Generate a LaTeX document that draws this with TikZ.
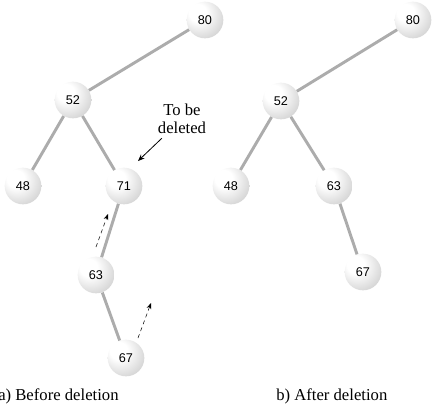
\documentclass[tikz,border=0pt]{standalone}
\usepackage{fontspec}
\setmainfont{Liberation Serif}
\newfontfamily\keyfont{Liberation Sans}
\usetikzlibrary{calc,arrows.meta}
\pgfdeclareradialshading{keyball}{\pgfpoint{-12bp}{12bp}}{%
  color(0bp)=(white); color(12bp)=(white);
  color(45bp)=(gray!50); color(58bp)=(gray!70); color(70bp)=(gray!75)}
\tikzset{
    key/.style={circle,minimum size=27.5pt,inner sep=0pt,shading=keyball,
      font=\keyfont\fontsize{9.5}{10}\selectfont},
    link/.style={line width=2.2pt,draw=gray!65},
    moveup/.style={densely dashed,dash pattern=on 3pt off 2.5pt,thin,
      -{Stealth[length=4.5pt,width=3.5pt]}},
    caption/.style={font=\fontsize{12.5}{14}\selectfont,anchor=west,inner sep=0pt},
  }
\begin{document}
\begin{tikzpicture}[x=0.75pt,y=-0.75pt]
				  %(x,y) in pixels of a 433x412 picture, y downwards
				  \useasboundingbox (0,0) rectangle (433,412);
				   %TREE A (before)
				  \node[key] (a80) at (205,20) {80};
				  \node[key] (a52) at (73,100) {52};
				  \node[key] (a48) at (23,186) {48};
				  \node[key] (a71) at (124,186) {71};
				  \node[key] (a63) at (96,275) {63};
				  \node[key] (a67) at (126,358) {67};
				  \draw[link] (a80) -- (a52);
				  \draw[link] (a52) -- (a48);
				  \draw[link] (a52) -- (a71);
				  \draw[link] (a71) -- (a63);
				  \draw[link] (a63) -- (a67);
				  %TO BE DELETED
				  \node[align=center,inner sep=1pt,font=\fontsize{12.5}{13.5}\selectfont] (del) at (182,119) {To be\\deleted};
				  \coordinate (delTip) at (138,161);
				  \draw[-{Stealth[length=5pt,width=4pt]},semithick,shorten <=3pt] (del) -- (delTip);
				  %MOVING UP
				  \coordinate (upA1) at (96,247);
				  \coordinate (upA2) at (108,214);
				  \coordinate (upB1) at (138,338);
				  \coordinate (upB2) at (151,303);
				  \draw[moveup] (upA1) -- (upA2);
				  \draw[moveup] (upB1) -- (upB2);
				   %TREE B (after)
				  \node[key] (b80) at (413,20) {80};
				  \node[key] (b52) at (281,101) {52};
				  \node[key] (b48) at (231,186) {48};
				  \node[key] (b63) at (334,186) {63};
				  \node[key] (b67) at (363,272) {67};
				  \draw[link] (b80) -- (b52);
				  \draw[link] (b52) -- (b48);
				  \draw[link] (b52) -- (b63);
				  \draw[link] (b63) -- (b67);
				  %CAPTIONS
				  \node[caption] (capA) at (-2,396) {a) Before deletion};
				  \node[caption] (capB) at (276,396) {b) After deletion};
				  \end{tikzpicture}
\end{document}
